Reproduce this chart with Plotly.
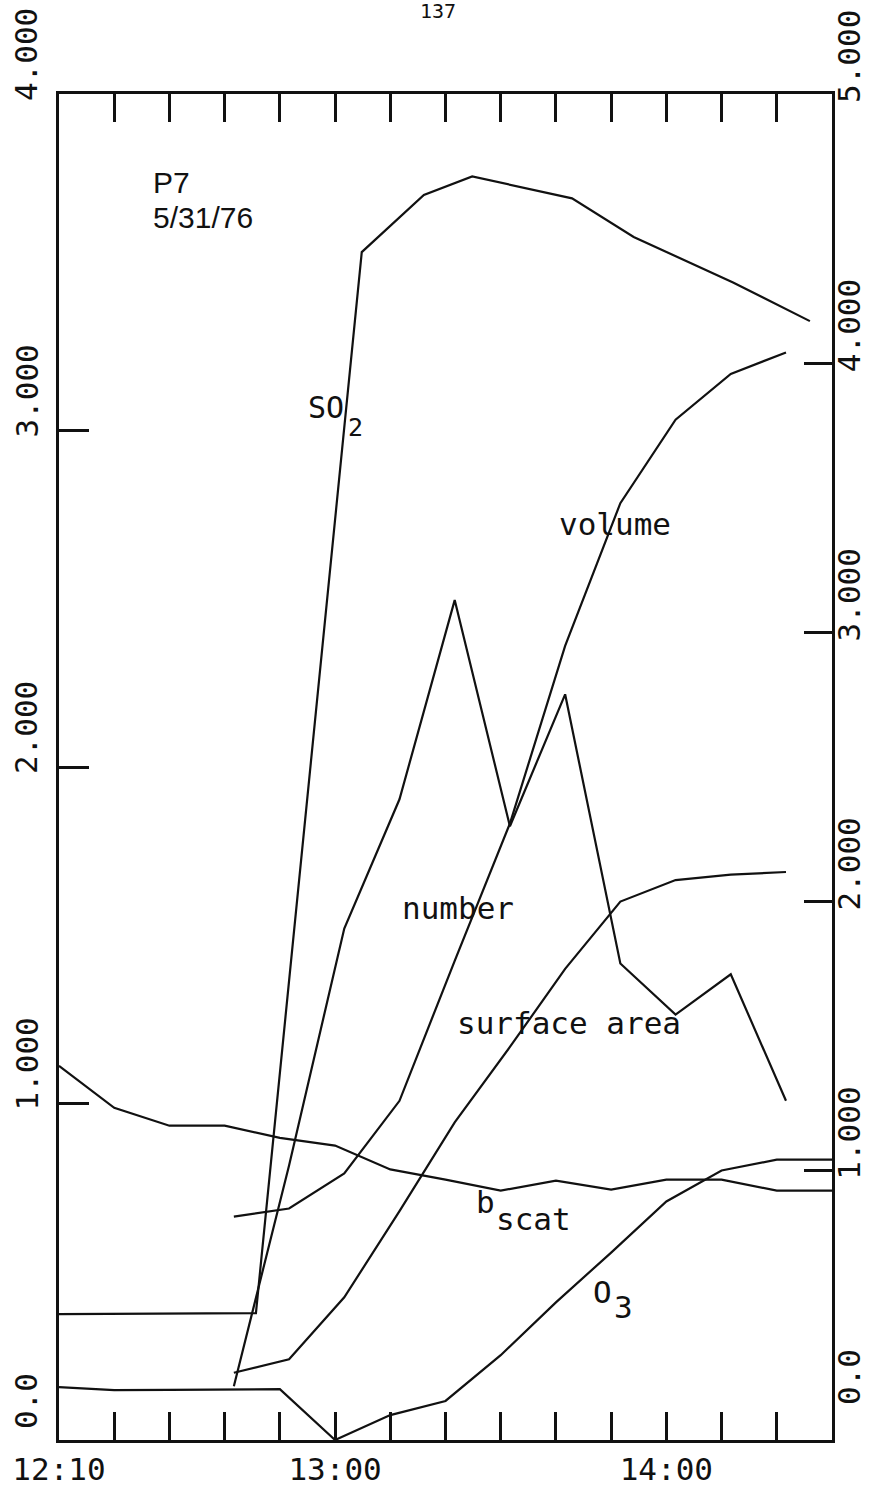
import plotly.graph_objects as go

DAY = "1976-05-31 "

# ---- data -------------------------------------------------------------
# 10-minute grid (O3 and light scattering)
grid_times = ["12:10", "12:20", "12:30", "12:40", "12:50", "13:00", "13:10", "13:20",
              "13:30", "13:40", "13:50", "14:00", "14:10", "14:20", "14:30"]
o3 = [0.157, 0.148, 0.149, 0.150, 0.151, 0.000, 0.074, 0.116,
      0.252, 0.409, 0.557, 0.709, 0.801, 0.833, 0.833]
bscat = [1.112, 0.987, 0.934, 0.934, 0.898, 0.875, 0.804, 0.774,
         0.741, 0.771, 0.744, 0.774, 0.774, 0.741, 0.741]

# SO2 samples
so2_times = ["12:10:00", "12:45:40", "13:04:50", "13:16:05", "13:24:50",
             "13:42:55", "13:54:05", "14:12:05", "14:26:00"]
so2 = [0.374, 0.377, 3.53, 3.70, 3.755, 3.69, 3.575, 3.44, 3.325]

# aerosol size-distribution samples (right-hand scale)
particle_times = ["12:41:40", "12:51:40", "13:01:40", "13:11:40", "13:21:40", "13:31:40",
                  "13:41:40", "13:51:40", "14:01:40", "14:11:40", "14:21:40"]
number = [0.20, 1.02, 1.90, 2.38, 3.12, 2.28, 2.77, 1.77, 1.58, 1.73, 1.26]
surface_area = [0.25, 0.30, 0.53, 0.85, 1.18, 1.46, 1.75, 2.00, 2.08, 2.10, 2.11]
volume = [0.83, 0.86, 0.99, 1.26, 1.78, 2.29, 2.95, 3.48, 3.79, 3.96, 4.04]

# axis ticks
x_tick_times = grid_times
x_tick_text = ["12:10", "", "", "", "", "13:00", "", "", "", "", "", "14:00", "", "", ""]
left_tick_vals = [0, 1, 2, 3, 4]
left_tick_text = ["0.0", "1.000", "2.000", "3.000", "4.000"]
right_tick_vals = [0, 1, 2, 3, 4, 5]
right_tick_text = ["0.0", "1.000", "2.000", "3.000", "4.000", "5.000"]

page_number = "137"

# ---- layout constants ---------------------------------------------------
W, H = 872, 1499
ML, MR, MT, MB = 58, 40, 94, 56
PW, PH = W - ML - MR, H - MT - MB
FONT = "DejaVu Sans Mono"
INK = "#111111"
LW = 2.2


def t(s):
    return DAY + s


def px_x(px):
    return (px - ML) / PW


def px_y(py):
    return (H - MB - py) / PH


fig = go.Figure()

line = dict(color=INK, width=LW)
fig.add_trace(go.Scatter(x=[t(s) for s in grid_times], y=bscat, mode="lines", line=line, name="bscat"))
fig.add_trace(go.Scatter(x=[t(s) for s in grid_times], y=o3, mode="lines", line=line, name="O3"))
fig.add_trace(go.Scatter(x=[t(s) for s in so2_times], y=so2, mode="lines", line=line, name="SO2"))
fig.add_trace(go.Scatter(x=[t(s) for s in particle_times], y=number, mode="lines", line=line,
                         name="number", yaxis="y2"))
fig.add_trace(go.Scatter(x=[t(s) for s in particle_times], y=surface_area, mode="lines", line=line,
                         name="surface area", yaxis="y2"))
fig.add_trace(go.Scatter(x=[t(s) for s in particle_times], y=volume, mode="lines", line=line,
                         name="volume", yaxis="y2"))

annotations = []

# rotated value labels on both vertical scales
for v, txt in zip(left_tick_vals, left_tick_text):
    annotations.append(dict(x=px_x(25), xref="paper", y=v, yref="y", yshift=39,
                            text=txt, textangle=-90, showarrow=False,
                            xanchor="center", yanchor="middle",
                            font=dict(family=FONT, size=31, color=INK)))
right_shift = [63, 38, 38, 38, 38, 38]
for v, txt, sh in zip(right_tick_vals, right_tick_text, right_shift):
    annotations.append(dict(x=px_x(849), xref="paper", y=v, yref="y2", yshift=sh,
                            text=txt, textangle=-90, showarrow=False,
                            xanchor="center", yanchor="middle",
                            font=dict(family=FONT, size=31, color=INK)))


# curve names and run identification
def label(text, x, y, size=31, family=FONT, anchor="left"):
    annotations.append(dict(x=px_x(x), y=px_y(y), xref="paper", yref="paper", text=text,
                            showarrow=False, xanchor=anchor, yanchor="middle",
                            font=dict(family=family, size=size, color=INK)))


label(page_number, 437, 11, size=20, anchor="center")
label("P7", 150, 183, size=30, family="Liberation Sans")
label("5/31/76", 150, 218, size=30, family="Liberation Sans")
label("SO", 305, 408, size=30)
label("2", 345, 428, size=25)
label("volume", 557, 525)
label("number", 399, 910)
label("surface area", 455, 1025)
label("b", 474, 1204)
label("scat", 494, 1222)
label("O", 591, 1295)
label("3", 612, 1310)

fig.update_layout(
    width=W, height=H,
    margin=dict(l=ML, r=MR, t=MT, b=MB, pad=0),
    paper_bgcolor="white", plot_bgcolor="white",
    showlegend=False,
    annotations=annotations,
    xaxis=dict(
        type="date",
        range=[t("12:10"), t("14:30")],
        tickvals=[t(s) for s in x_tick_times], ticktext=x_tick_text,
        ticks="inside", ticklen=28, tickwidth=3, tickcolor=INK,
        showline=True, linewidth=3, linecolor=INK, mirror="ticks",
        showgrid=False, zeroline=False,
        tickfont=dict(family=FONT, size=31, color=INK),
    ),
    yaxis=dict(
        range=[0, 4],
        tickvals=left_tick_vals, showticklabels=False,
        ticks="inside", ticklen=30, tickwidth=3, tickcolor=INK,
        showline=True, linewidth=3, linecolor=INK,
        showgrid=False, zeroline=False,
    ),
    yaxis2=dict(
        range=[0, 5], overlaying="y", side="right",
        tickvals=right_tick_vals, showticklabels=False,
        ticks="inside", ticklen=28, tickwidth=3, tickcolor=INK,
        showline=True, linewidth=3, linecolor=INK,
        showgrid=False, zeroline=False,
    ),
)

fig.write_html("out.html")
